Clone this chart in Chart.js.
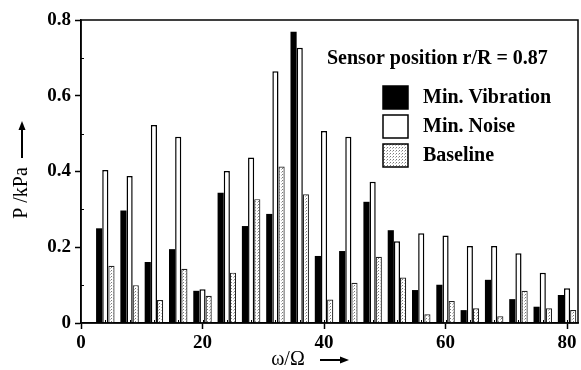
<!DOCTYPE html>
<html>
<head>
<meta charset="utf-8">
<script src="https://cdn.jsdelivr.net/npm/chart.js@4"></script>
<style>
  html, body { margin: 0; padding: 0; background: #fff; }
  #wrap { width: 581px; height: 370px; }
</style>
</head>
<body>
<div id="wrap"><canvas id="chart" width="581" height="370"></canvas></div>
<script>
// harmonic orders (omega / Omega)
const harmonics = [4, 8, 12, 16, 20, 24, 28, 32, 36, 40, 44, 48, 52, 56, 60, 64, 68, 72, 76, 80];

// pressure amplitudes in kPa
const minVibration = [0.25, 0.297, 0.161, 0.195, 0.085, 0.344, 0.256, 0.288, 0.769, 0.177,
  0.19, 0.32, 0.245, 0.087, 0.101, 0.034, 0.114, 0.063, 0.043, 0.074];
const minNoise = [0.404, 0.388, 0.523, 0.492, 0.089, 0.401, 0.437, 0.665, 0.727, 0.507,
  0.492, 0.373, 0.216, 0.237, 0.231, 0.203, 0.203, 0.184, 0.133, 0.092];
const baseline = [0.151, 0.1, 0.061, 0.143, 0.072, 0.133, 0.327, 0.413, 0.34, 0.062,
  0.106, 0.175, 0.12, 0.023, 0.058, 0.039, 0.018, 0.085, 0.039, 0.034];

const seriesNames = ["Min. Vibration", "Min. Noise", "Baseline"];
const xTicks = [0, 20, 40, 60, 80];
const yTicks = [0, 0.2, 0.4, 0.6, 0.8];
const sensorNote = "Sensor position r/R = 0.87";
const xTitle = "ω/Ω";
const yTitle = "P /kPa";

const serif = "'Liberation Serif', 'DejaVu Serif', serif";

// stippled fill for the baseline bars
function dotPattern() {
  const c = document.createElement("canvas");
  c.width = 3;
  c.height = 3;
  const g = c.getContext("2d");
  g.fillStyle = "#fff";
  g.fillRect(0, 0, 3, 3);
  g.fillStyle = "#7a7a7a";
  g.fillRect(0, 0, 1, 1);
  g.fillStyle = "#bbbbbb";
  g.fillRect(2, 1, 1, 1);
  return g.createPattern(c, "repeat");
}
const dots = dotPattern();

function pts(vals) {
  return harmonics.map((h, i) => ({ x: h, y: vals[i] }));
}

// arrow pointing along (dx, dy) from (x0, y0)
function arrow(ctx, x0, y0, x1, y1) {
  const ang = Math.atan2(y1 - y0, x1 - x0);
  ctx.beginPath();
  ctx.moveTo(x0, y0);
  ctx.lineTo(x1 - 6 * Math.cos(ang), y1 - 6 * Math.sin(ang));
  ctx.lineWidth = 2;
  ctx.stroke();
  ctx.beginPath();
  ctx.moveTo(x1, y1);
  ctx.lineTo(x1 - 9 * Math.cos(ang) + 3.5 * Math.sin(ang), y1 - 9 * Math.sin(ang) - 3.5 * Math.cos(ang));
  ctx.lineTo(x1 - 9 * Math.cos(ang) - 3.5 * Math.sin(ang), y1 - 9 * Math.sin(ang) + 3.5 * Math.cos(ang));
  ctx.closePath();
  ctx.fill();
}

// frame, minor ticks, axis titles, legend and note
const decorations = {
  id: "decorations",
  afterDraw(chart) {
    const ctx = chart.ctx;
    const a = chart.chartArea;
    const xs = chart.scales.x;
    const ys = chart.scales.y;
    ctx.save();
    ctx.strokeStyle = "#000";
    ctx.lineWidth = 1.5;
    ctx.strokeRect(a.left, a.top, a.right - a.left, a.bottom - a.top);

    ctx.lineWidth = 1;
    ctx.beginPath();
    harmonics.forEach((h) => {
      const px = Math.round(xs.getPixelForValue(h)) + 0.5;
      ctx.moveTo(px, a.bottom);
      ctx.lineTo(px, a.bottom - 3);
    });
    [0.1, 0.3, 0.5, 0.7].forEach((v) => {
      const py = Math.round(ys.getPixelForValue(v)) + 0.5;
      ctx.moveTo(a.left, py);
      ctx.lineTo(a.left + 3, py);
    });
    ctx.stroke();

    ctx.fillStyle = "#000";
    ctx.strokeStyle = "#000";

    // axis titles
    ctx.font = "20px " + serif;
    ctx.textBaseline = "middle";
    ctx.textAlign = "center";
    ctx.fillText(xTitle, 288, 360);
    arrow(ctx, 320, 360, 349, 360);

    ctx.save();
    ctx.translate(22, 193);
    ctx.rotate(-Math.PI / 2);
    ctx.fillText(yTitle, 0, 0);
    ctx.restore();
    arrow(ctx, 22, 158, 22, 121);

    // note and legend
    ctx.font = "bold 20px " + serif;
    ctx.textAlign = "left";
    ctx.fillText(sensorNote, 327, 59);

    const rows = [97, 126, 155];
    chart.data.datasets.forEach((ds, i) => {
      const y = rows[i];
      ctx.fillStyle = ds.backgroundColor;
      ctx.fillRect(383, y - 11, 25, 23);
      ctx.lineWidth = 1.5;
      ctx.strokeStyle = "#000";
      ctx.strokeRect(383, y - 11, 25, 23);
      ctx.fillStyle = "#000";
      ctx.fillText(ds.label, 423, y + 1);
    });
    ctx.restore();
  }
};

new Chart(document.getElementById("chart"), {
  type: "bar",
  data: {
    datasets: [
      {
        label: seriesNames[0],
        data: pts(minVibration),
        backgroundColor: "#000",
        borderColor: "#000",
        borderWidth: 0
      },
      {
        label: seriesNames[1],
        data: pts(minNoise),
        backgroundColor: "#fff",
        borderColor: "#000",
        borderWidth: 1.5
      },
      {
        label: seriesNames[2],
        data: pts(baseline),
        backgroundColor: dots,
        borderColor: "#222",
        borderWidth: 1.2
      }
    ]
  },
  options: {
    responsive: false,
    animation: false,
    layout: { padding: { top: 20, right: 3, left: 0, bottom: 0 } },
    datasets: {
      bar: { categoryPercentage: 0.76, barPercentage: 1.0 }
    },
    plugins: {
      legend: { display: false },
      tooltip: { enabled: false }
    },
    scales: {
      x: {
        type: "linear",
        offset: false,
        min: 0,
        max: 81.8,
        afterBuildTicks: (s) => { s.ticks = xTicks.map((v) => ({ value: v })); },
        afterFit: (s) => { s.height = 47; },
        grid: {
          offset: false,
          drawOnChartArea: false,
          drawTicks: true,
          tickLength: 6,
          tickColor: "#000",
          tickWidth: 1.5
        },
        border: { display: true, color: "#000", width: 1.5 },
        ticks: {
          color: "#000",
          padding: 3,
          maxRotation: 0,
          font: { family: serif, size: 19, weight: "bold" }
        }
      },
      y: {
        min: 0,
        max: 0.8,
        afterBuildTicks: (s) => { s.ticks = yTicks.map((v) => ({ value: v })); },
        afterFit: (s) => { s.width = 81; },
        grid: {
          drawOnChartArea: false,
          drawTicks: true,
          tickLength: 6,
          tickColor: "#000",
          tickWidth: 1.5
        },
        border: { display: true, color: "#000", width: 1.5 },
        ticks: {
          color: "#000",
          padding: 4,
          font: { family: serif, size: 19, weight: "bold" },
          callback: (v) => (v === 0 ? "0" : v.toFixed(1))
        }
      }
    }
  },
  plugins: [decorations]
});
</script>
</body>
</html>
